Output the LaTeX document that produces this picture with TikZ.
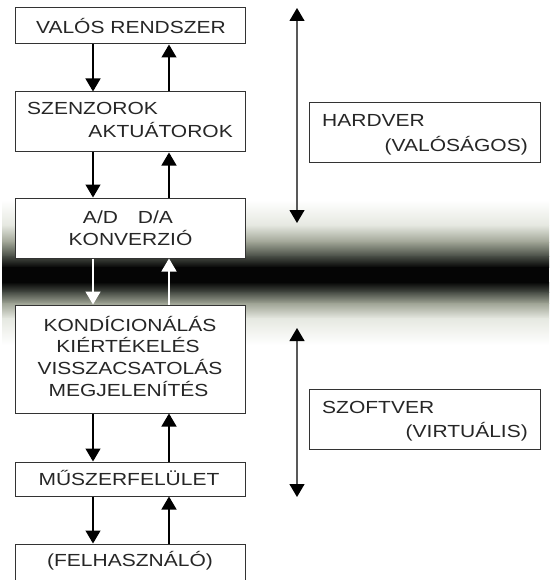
\documentclass[tikz,border=0pt]{standalone}
\usepackage{fontspec}
\setmainfont{Liberation Sans}[FakeStretch=1.2]
\usetikzlibrary{arrows.meta}
\definecolor{bA}{rgb}{0.90,0.91,0.88}
\definecolor{bB}{rgb}{0.62,0.64,0.58}
\definecolor{bC}{rgb}{0.28,0.30,0.27}
\definecolor{bK}{rgb}{0.02,0.02,0.02}
\definecolor{txtc}{gray}{0.15}
\begin{document}
\begin{tikzpicture}[x=1pt,y=-1pt,
  box/.style={draw=black!80, line width=1pt, fill=white, minimum width=230pt, inner sep=0pt},
  sidebox/.style={draw=black!80, line width=1pt, fill=white, minimum width=231pt, minimum height=60pt, inner sep=0pt},
  lbl/.style={font=\fontsize{17.5pt}{21pt}\selectfont, text=txtc, inner sep=0pt},
  arr/.style={draw=black, line width=1.3pt, -{Triangle[length=13pt,width=15pt]}},
  warr/.style={draw=white, line width=1.5pt, -{Triangle[length=13pt,width=15pt]}},
  side/.style={draw=black!65, line width=1.2pt, {Triangle[length=13pt,width=15pt,color=black]}-{Triangle[length=13pt,width=15pt,color=black]}}]
\clip (0,0) rectangle (549,580);
\fill[white] (0,0) rectangle (549,580);
% gradient band
\shade[top color=white, bottom color=bA] (2,200) rectangle (549,225.6);
\shade[top color=bA, bottom color=bB] (2,225) rectangle (549,242.6);
\shade[top color=bB, bottom color=bC] (2,242) rectangle (549,256.6);
\shade[top color=bC, bottom color=bK] (2,256) rectangle (549,267.6);
\fill[bK] (2,267) rectangle (549,282.6);
\shade[top color=bK, bottom color=bC] (2,282) rectangle (549,292.6);
\shade[top color=bC, bottom color=bB] (2,292) rectangle (549,303.6);
\shade[top color=bB, bottom color=bA] (2,303) rectangle (549,318.6);
\shade[top color=bA, bottom color=white] (2,318) rectangle (549,345);
% column coordinates
\coordinate (cl) at (93,0);
\coordinate (cr) at (169,0);
% left boxes
\node[box, minimum height=36pt] (val) at (130,26) {};
\node[box, minimum height=60pt] (sz) at (130,122) {};
\node[box, minimum height=60pt] (ad) at (130,228) {};
\node[box, minimum height=108pt] (kond) at (130,359) {};
\node[box, minimum height=34pt] (musz) at (130,479) {};
\node[box, minimum height=60pt] (felh) at (130,574) {};
% texts
\node[lbl, anchor=base] (tval) at (131,33.3) {VALÓS RENDSZER};
\node[lbl, anchor=base west] (tsz1) at (27,115) {SZENZOROK};
\node[lbl, anchor=base east] (tsz2) at (233,137.3) {AKTUÁTOROK};
\node[lbl, anchor=base] (tad1) at (128,223.3) {A/D\hspace{20pt}D/A};
\node[lbl, anchor=base] (tad2) at (130.5,245) {KONVERZIÓ};
\node[lbl, anchor=base] (tk1) at (130,331) {KONDÍCIONÁLÁS};
\node[lbl, anchor=base] (tk2) at (128,352.7) {KIÉRTÉKELÉS};
\node[lbl, anchor=base] (tk3) at (130,374) {VISSZACSATOLÁS};
\node[lbl, anchor=base] (tk4) at (128.5,396) {MEGJELENÍTÉS};
\node[lbl, anchor=base] (tmu) at (129,485) {MŰSZERFELÜLET};
\node[lbl, anchor=base] (tfe) at (130,566.5) {(FELHASZNÁLÓ)};
% arrows
\draw[arr] (val.south -| cl) -- (sz.north -| cl);
\draw[arr] (sz.north -| cr) -- (val.south -| cr);
\draw[arr] (sz.south -| cl) -- (ad.north -| cl);
\draw[arr] (ad.north -| cr) -- (sz.south -| cr);
\draw[warr] (ad.south -| cl) -- (kond.north -| cl);
\draw[warr] (kond.north -| cr) -- (ad.south -| cr);
\draw[arr] (kond.south -| cl) -- (musz.north -| cl);
\draw[arr] (musz.north -| cr) -- (kond.south -| cr);
\draw[arr] (musz.south -| cl) -- (felh.north -| cl);
\draw[arr] (felh.north -| cr) -- (musz.south -| cr);
% right side
\coordinate (hwA) at (297,8);
\coordinate (hwB) at (297,223);
\draw[side] (hwA) -- (hwB);
\node[sidebox] (hw) at (424.5,133) {};
\node[lbl, anchor=base west] (thw1) at (322,127) {HARDVER};
\node[lbl, anchor=base east] (thw2) at (528,152) {(VALÓSÁGOS)};
\coordinate (swA) at (297,328);
\coordinate (swB) at (297,497);
\draw[side] (swA) -- (swB);
\node[sidebox] (sw) at (424.5,419) {};
\node[lbl, anchor=base west] (tsw1) at (322,413) {SZOFTVER};
\node[lbl, anchor=base east] (tsw2) at (528,437) {(VIRTUÁLIS)};
\end{tikzpicture}
\end{document}
